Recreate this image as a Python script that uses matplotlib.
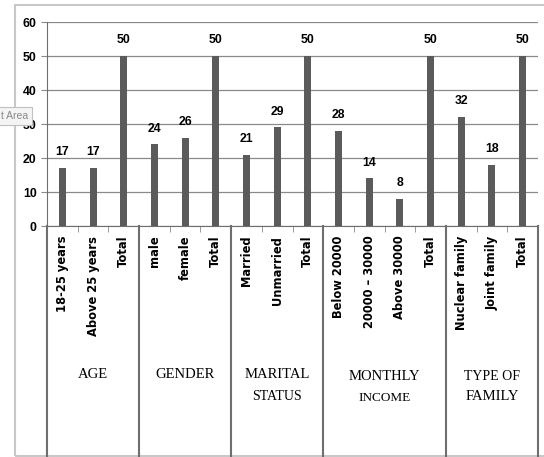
import matplotlib
matplotlib.use("Agg")
import matplotlib.pyplot as plt
from matplotlib.transforms import blended_transform_factory
from matplotlib.patches import Rectangle
from matplotlib.lines import Line2D

categories = ["18-25 years", "Above 25 years", "Total",
              "male", "female", "Total",
              "Married", "Unmarried", "Total",
              "Below 20000", "20000 \u2013 30000", "Above 30000", "Total",
              "Nuclear family", "Joint family", "Total"]
values = [17, 17, 50, 24, 26, 50, 21, 29, 50, 28, 14, 8, 50, 32, 18, 50]
group_sizes = [3, 3, 3, 4, 3]
group_lines = [["AGE"], ["GENDER"], ["MARITAL", "STATUS"],
               ["MONTHLY", "INCOME"], ["TYPE OF", "FAMILY"]]
y_ticks = [0, 10, 20, 30, 40, 50, 60]

W, H = 544, 457
fig = plt.figure(figsize=(W / 100, H / 100), dpi=100)
fig.patch.set_facecolor("white")

# outer chart border
fig.add_artist(Rectangle((15 / W, 1 / H), 1.0, (452.5 - 1) / H,
                         transform=fig.transFigure, fill=False,
                         edgecolor="#c8c8c8", linewidth=1.5, clip_on=False))

ax = fig.add_axes([47 / W, 1 - 226 / H, (538 - 47) / W, (226 - 22) / H])
x = list(range(len(categories)))
ax.bar(x, values, width=0.23, color="#5b5b5b", zorder=3)
ax.set_xlim(-0.5, len(categories) - 0.5)
ax.set_ylim(0, 60)
ax.set_yticks(y_ticks)
ax.yaxis.grid(True, color="#8a8a8a", linewidth=0.9, zorder=0)
for s in ["top", "right"]:
    ax.spines[s].set_visible(False)
ax.spines["left"].set_color("#6e6e6e")
ax.spines["bottom"].set_color("#6e6e6e")
ax.tick_params(axis="y", length=4.5, color="#8a8a8a", pad=3)
for lab in ax.get_yticklabels():
    lab.set_fontfamily("Liberation Sans")
    lab.set_fontweight("bold")
    lab.set_fontsize(8.8)

ax.set_xticks(x)
ax.set_xticklabels(categories, rotation=90, va="top", ha="center",
                   fontfamily="DejaVu Sans", fontweight="bold", fontsize=8.3)
ax.tick_params(axis="x", which="major", length=0, pad=7)
ax.set_xticks([i - 0.5 for i in range(len(categories) + 1)], minor=True)
ax.tick_params(axis="x", which="minor", length=4, color="#8a8a8a")

for xi, v in zip(x, values):
    ax.annotate(str(v), (xi, v), xytext=(0, 7), textcoords="offset points",
                ha="center", va="bottom", fontfamily="Liberation Sans",
                fontweight="bold", fontsize=8.8, zorder=4)

# group separators and labels
tr = blended_transform_factory(ax.transData, fig.transFigure)
y_top = 1 - 226 / H
y_bot = 1 - 456 / H
bounds = [-0.5]
for g in group_sizes:
    bounds.append(bounds[-1] + g)
for b in bounds:
    fig.add_artist(Line2D([b, b], [y_bot, y_top], transform=tr,
                          color="#6e6e6e", linewidth=1.5, clip_on=False))

line_y = [[374], [374], [374, 396], [377, 398], [376, 397]]
sizes = [[10.5], [10.5], [10.5, 10], [10.5, 9.5], [10, 10.5]]
for i, lines in enumerate(group_lines):
    cx = (bounds[i] + bounds[i + 1]) / 2
    for txt, py, fs in zip(lines, line_y[i], sizes[i]):
        fig.text(cx, 1 - py / H, txt, transform=tr, ha="center", va="center",
                 fontfamily="Liberation Serif", fontsize=fs)

# tooltip remnant
fig.text(1 / W, 1 - 116 / H, "t Area", fontsize=7.5, color="#888888",
         fontfamily="Liberation Sans", va="center", ha="left",
         bbox=dict(boxstyle="square,pad=0.35", facecolor="#f4f4f4",
                   edgecolor="#c0c0c0", linewidth=0.8))

fig.savefig("out.png", dpi=100, facecolor="white")
